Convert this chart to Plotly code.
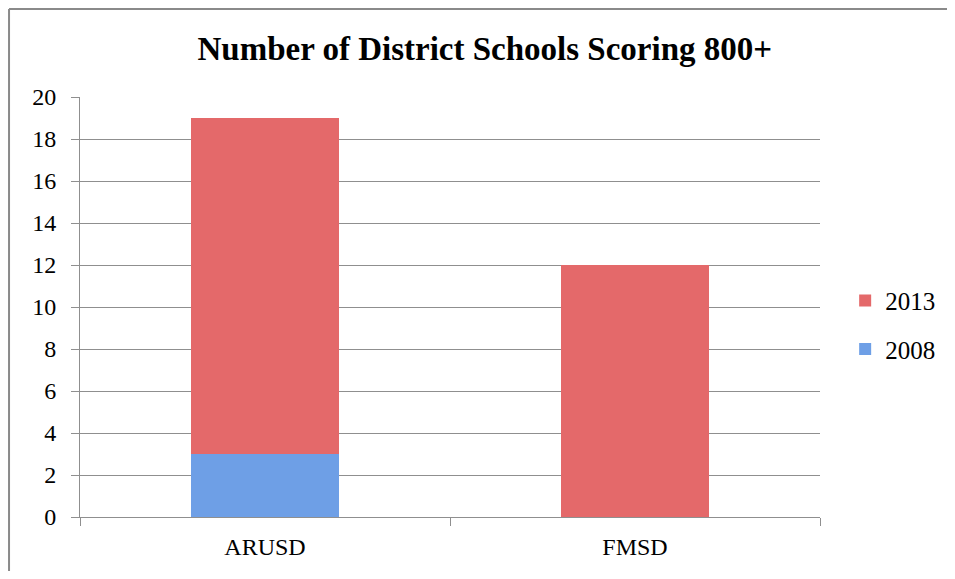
import plotly.graph_objects as go

categories = ["ARUSD", "FMSD"]
values_2008 = [3, 0]
values_2013 = [16, 12]
series_names = ["2008", "2013"]
y_ticks = [0, 2, 4, 6, 8, 10, 12, 14, 16, 18, 20]

FONT = "Liberation Serif"
GRID = "#8f8f8f"

fig = go.Figure()
fig.add_trace(go.Bar(
    x=categories, y=values_2008, name=series_names[0],
    marker=dict(color="#6e9fe6", line=dict(width=0)),
    width=0.4, legendgroup="a", legendrank=2,
))
fig.add_trace(go.Bar(
    x=categories, y=values_2013, name=series_names[1],
    marker=dict(color="#e4696a", line=dict(width=0)),
    width=0.4, legendgroup="b", legendrank=1,
))

fig.update_layout(
    barmode="stack",
    width=939, height=563,
    margin=dict(l=72, r=127, t=89, b=54, autoexpand=False),
    paper_bgcolor="white", plot_bgcolor="white",
    title=dict(text="<b>Number of District Schools Scoring 800+</b>",
               x=0.547, xanchor="center", xref="paper", y=0.929, yanchor="middle",
               font=dict(family=FONT, size=33, color="black")),
    font=dict(family=FONT, size=24, color="black"),
    legend=dict(traceorder="grouped", tracegroupgap=13,
                x=1.034, xanchor="left", y=0.458, yanchor="middle",
                font=dict(family=FONT, size=25), itemwidth=30,
                bgcolor="rgba(0,0,0,0)"),
    showlegend=True,
)
fig.update_yaxes(range=[0, 20], tickvals=y_ticks, showgrid=True, gridcolor=GRID, gridwidth=1,
                 showline=True, linecolor=GRID, linewidth=1, ticks="outside", ticklen=8,
                 tickcolor=GRID, zeroline=False, tickfont=dict(family=FONT, size=24),
                 ticklabelstandoff=10, fixedrange=True)
fig.update_xaxes(showline=True, linecolor=GRID, linewidth=1, ticks="outside", ticklen=8,
                 tickcolor=GRID, tickson="boundaries", showgrid=False,
                 ticklabelstandoff=8, tickfont=dict(family=FONT, size=24))

# outer chart frame (left and top edges visible)
fig.add_shape(type="line", xref="paper", yref="paper", x0=-0.0959, x1=-0.0959, y0=-0.2, y1=1.2095,
              line=dict(color="#8a8a8a", width=2))
fig.add_shape(type="line", xref="paper", yref="paper", x0=-0.0959, x1=1.3, y0=1.2095, y1=1.2095,
              line=dict(color="#8a8a8a", width=2))

fig.write_html("out.html")
